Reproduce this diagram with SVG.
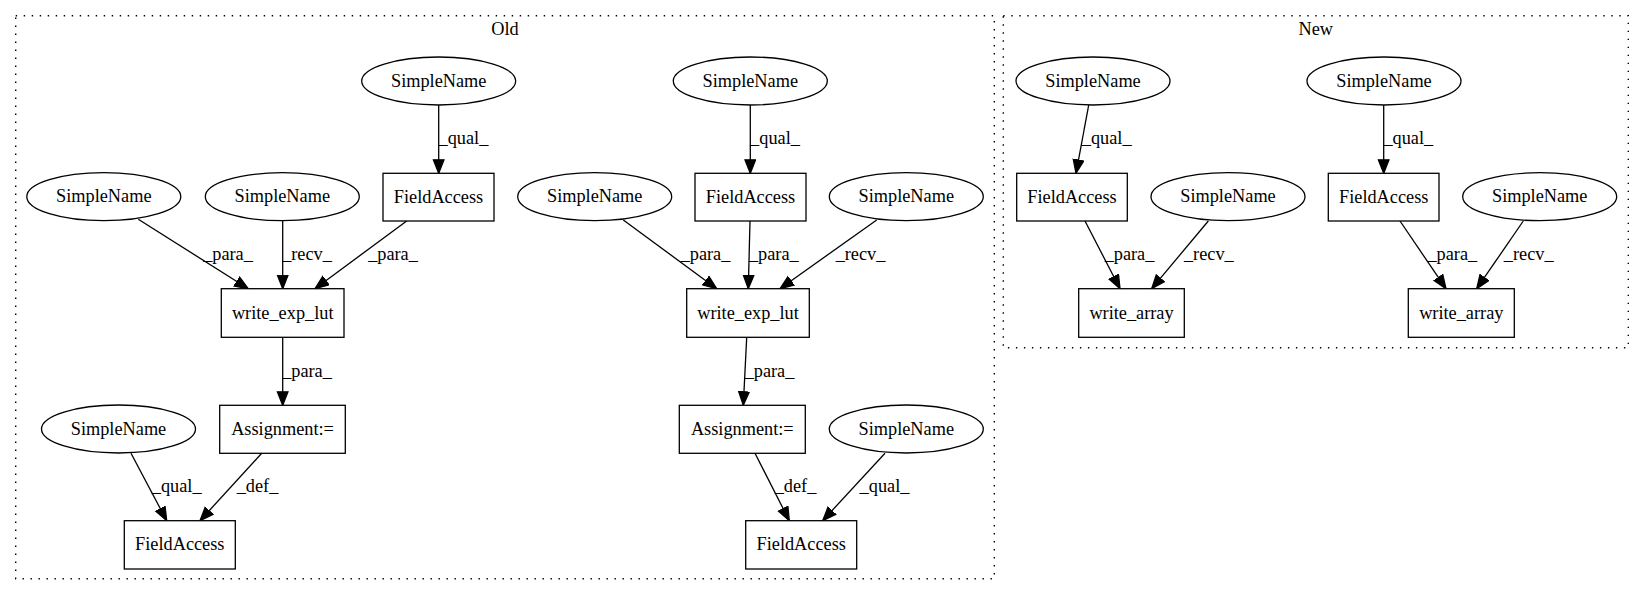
<svg xmlns="http://www.w3.org/2000/svg" width="1644" height="596" viewBox="0 0 1644 596" font-family="'Liberation Serif', 'Times New Roman', Times, serif" font-size="18">
<style>
text{font-family:"Liberation Serif","Times New Roman",Times,serif;font-size:18.3px;fill:#000;text-anchor:middle}
.cl{fill:none;stroke:#000;stroke-width:1.4;stroke-dasharray:1.4,6.6}
.n ellipse,.n rect{fill:#fff;stroke:#000;stroke-width:1.3}
#edges line{stroke:#000;stroke-width:1.3;marker-end:url(#ah)}
</style>
<defs>
<marker id="ah" markerUnits="userSpaceOnUse" markerWidth="16" markerHeight="14" refX="14" refY="6" orient="auto">
<path d="M0.5,0.7 L14,6 L0.5,11.3 Z" fill="#000" stroke="#000" stroke-width="1.3"/>
</marker>
</defs>
<rect width="1644" height="596" fill="#fff"/>
<g id="cluster-old"><rect class="cl" x="15.7" y="15.7" width="978.6" height="563"/><text x="505" y="35">Old</text></g>
<g id="cluster-new"><rect class="cl" x="1003.3" y="15.7" width="625" height="332"/><text x="1315.8" y="35">New</text></g>
<g id="edges">
<line x1="438.7" y1="105" x2="438.7" y2="173.3"/><text x="463.4" y="144">_qual_</text>
<line x1="138.3" y1="219.3" x2="248.3" y2="288.7"/><text x="228" y="260">_para_</text>
<line x1="282.7" y1="221" x2="282.7" y2="288.7"/><text x="307" y="260">_recv_</text>
<line x1="406.7" y1="221" x2="315" y2="288.7"/><text x="393" y="260">_para_</text>
<line x1="282.7" y1="337.3" x2="282.7" y2="405.3"/><text x="307" y="376.7">_para_</text>
<line x1="131" y1="453.3" x2="166.7" y2="520.7"/><text x="176.7" y="491.7">_qual_</text>
<line x1="261.7" y1="453.3" x2="200" y2="520.7"/><text x="257.5" y="491.7">_def_</text>
<line x1="750.3" y1="105" x2="750.3" y2="173.3"/><text x="775" y="144">_qual_</text>
<line x1="623.3" y1="220" x2="716.7" y2="288.7"/><text x="705.5" y="260">_para_</text>
<line x1="750" y1="221" x2="748.3" y2="288.7"/><text x="773.8" y="260">_para_</text>
<line x1="876.7" y1="220" x2="780" y2="288.7"/><text x="860.5" y="260">_recv_</text>
<line x1="746.7" y1="337.3" x2="743.3" y2="405.3"/><text x="769.5" y="376.7">_para_</text>
<line x1="755" y1="453.3" x2="789.3" y2="520.7"/><text x="795.5" y="491.7">_def_</text>
<line x1="885" y1="453.3" x2="822.7" y2="520.7"/><text x="884.5" y="491.7">_qual_</text>
<line x1="1088.7" y1="105" x2="1076" y2="173.3"/><text x="1106.7" y="144">_qual_</text>
<line x1="1085" y1="221" x2="1120" y2="288.7"/><text x="1129.5" y="260">_para_</text>
<line x1="1208.3" y1="221" x2="1151.7" y2="288.7"/><text x="1208.8" y="260">_recv_</text>
<line x1="1383.7" y1="105" x2="1383.7" y2="173.3"/><text x="1408.3" y="144">_qual_</text>
<line x1="1400" y1="221" x2="1446" y2="288.7"/><text x="1452.3" y="260">_para_</text>
<line x1="1523.3" y1="221" x2="1476.7" y2="288.7"/><text x="1528.7" y="260">_recv_</text>
</g>
<g id="n1" class="n"><ellipse cx="438.7" cy="81" rx="77" ry="24"/><text x="438.7" y="86.5">SimpleName</text></g>
<g id="n2" class="n"><rect x="383" y="173.3" width="111" height="47.7"/><text x="438.5" y="202.7">FieldAccess</text></g>
<g id="n3" class="n"><ellipse cx="103.8" cy="196.7" rx="77" ry="24"/><text x="103.8" y="202.2">SimpleName</text></g>
<g id="n4" class="n"><ellipse cx="282.3" cy="196.7" rx="77" ry="24"/><text x="282.3" y="202.2">SimpleName</text></g>
<g id="n5" class="n"><rect x="221.3" y="288.7" width="122.7" height="48.6"/><text x="282.7" y="318.5">write_exp_lut</text></g>
<g id="n6" class="n"><rect x="219.7" y="405.3" width="125.6" height="48"/><text x="282.5" y="434.8">Assignment:=</text></g>
<g id="n7" class="n"><ellipse cx="118.5" cy="429" rx="77" ry="24"/><text x="118.5" y="434.5">SimpleName</text></g>
<g id="n8" class="n"><rect x="124.3" y="520.7" width="111" height="48.3"/><text x="179.8" y="550.3">FieldAccess</text></g>
<g id="n9" class="n"><ellipse cx="750.3" cy="81" rx="77" ry="24"/><text x="750.3" y="86.5">SimpleName</text></g>
<g id="n10" class="n"><rect x="695" y="173.3" width="111" height="47.7"/><text x="750.5" y="202.7">FieldAccess</text></g>
<g id="n11" class="n"><ellipse cx="594.7" cy="196.7" rx="77" ry="24"/><text x="594.7" y="202.2">SimpleName</text></g>
<g id="n12" class="n"><ellipse cx="906.3" cy="196.7" rx="77" ry="24"/><text x="906.3" y="202.2">SimpleName</text></g>
<g id="n13" class="n"><rect x="686.7" y="288.7" width="122.6" height="48.6"/><text x="748" y="318.5">write_exp_lut</text></g>
<g id="n14" class="n"><rect x="679.3" y="405.3" width="126" height="48"/><text x="742.3" y="434.8">Assignment:=</text></g>
<g id="n15" class="n"><ellipse cx="906.3" cy="429" rx="77" ry="24"/><text x="906.3" y="434.5">SimpleName</text></g>
<g id="n16" class="n"><rect x="745.7" y="520.7" width="111" height="48.3"/><text x="801.2" y="550.3">FieldAccess</text></g>
<g id="n17" class="n"><ellipse cx="1093" cy="81" rx="77" ry="24"/><text x="1093" y="86.5">SimpleName</text></g>
<g id="n18" class="n"><rect x="1016.7" y="173.3" width="110.6" height="47.7"/><text x="1072" y="202.7">FieldAccess</text></g>
<g id="n19" class="n"><ellipse cx="1228" cy="196.7" rx="77" ry="24"/><text x="1228" y="202.2">SimpleName</text></g>
<g id="n20" class="n"><rect x="1078.7" y="288.7" width="105.6" height="48.6"/><text x="1131.5" y="318.5">write_array</text></g>
<g id="n21" class="n"><ellipse cx="1384" cy="81" rx="77" ry="24"/><text x="1384" y="86.5">SimpleName</text></g>
<g id="n22" class="n"><rect x="1328.3" y="173.3" width="110.7" height="47.7"/><text x="1383.7" y="202.7">FieldAccess</text></g>
<g id="n23" class="n"><ellipse cx="1539.7" cy="196.7" rx="77" ry="24"/><text x="1539.7" y="202.2">SimpleName</text></g>
<g id="n24" class="n"><rect x="1408.3" y="288.7" width="106" height="48.6"/><text x="1461.3" y="318.5">write_array</text></g>
</svg>
